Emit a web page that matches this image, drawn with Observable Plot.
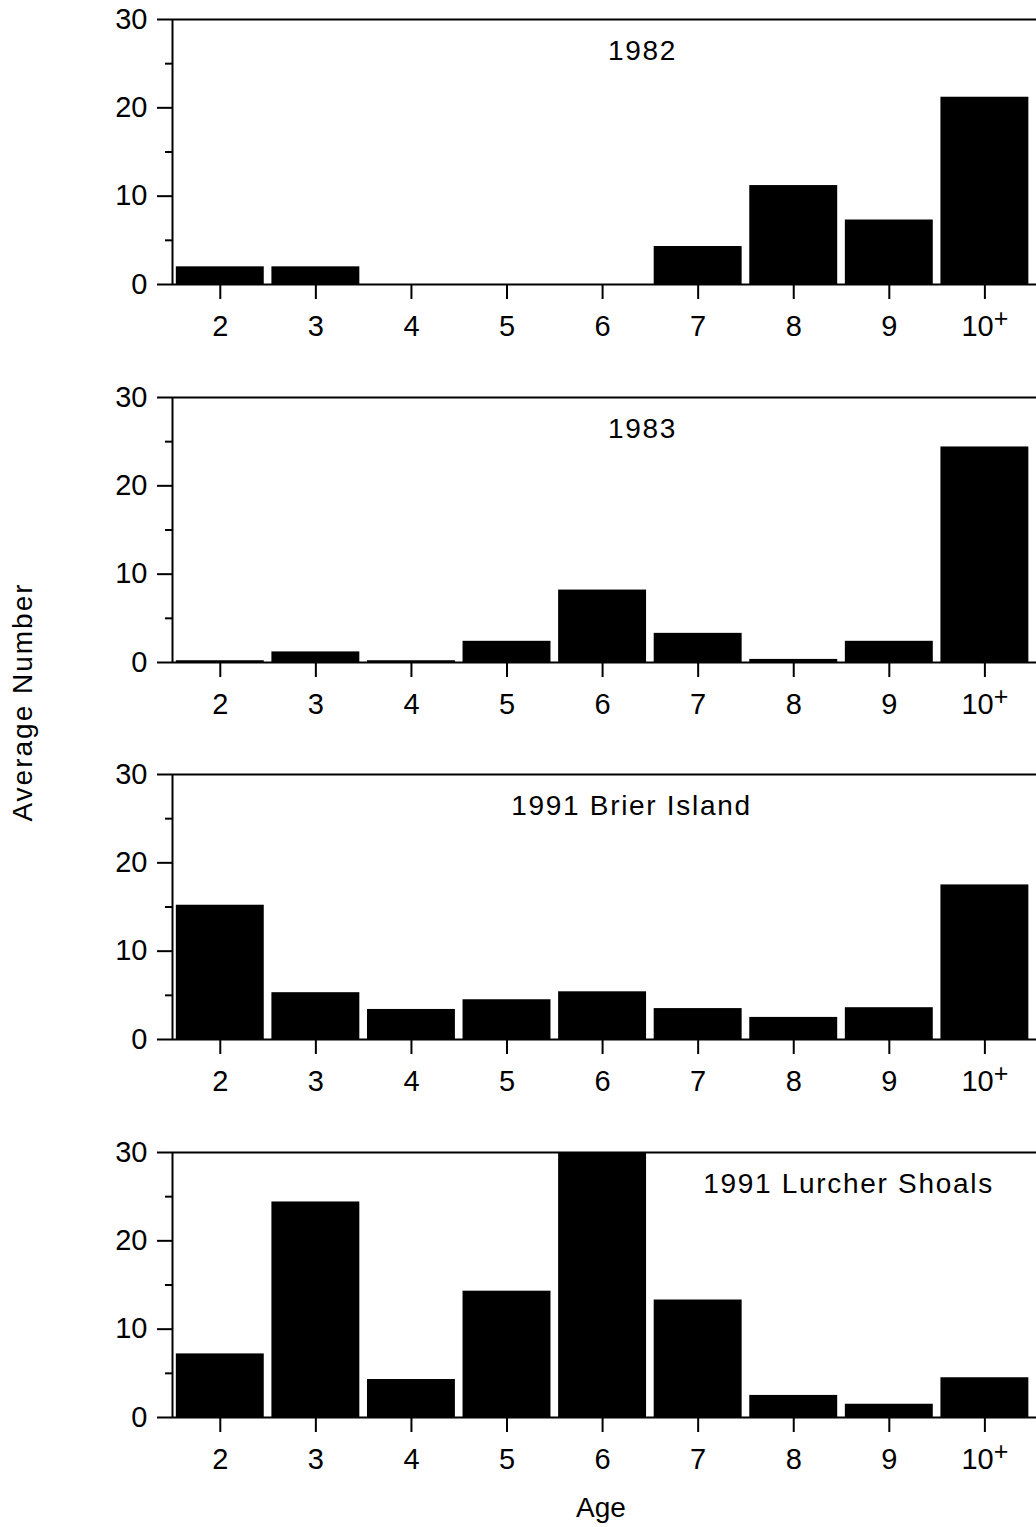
<!DOCTYPE html>
<html>
<head>
<meta charset="utf-8">
<script src="https://cdn.jsdelivr.net/npm/d3@7"></script>
<script src="https://cdn.jsdelivr.net/npm/@observablehq/plot@0.6"></script>
<style>
  body { margin: 0; background: #fff; }
  #root { position: relative; width: 1036px; height: 1527px; overflow: hidden; font-family: "Liberation Sans", Arial, Helvetica, sans-serif; color: #000; }
  .panel { position: absolute; left: 0; }
  .lab { position: absolute; font-size: 28px; line-height: 28px; white-space: nowrap; text-align: center; }
</style>
</head>
<body>
<div id="root"></div>
<script>
// ---- data ----
const ages = [2, 3, 4, 5, 6, 7, 8, 9, 10];
const ageLabels = ["2", "3", "4", "5", "6", "7", "8", "9", "10+"];
const panelTitles = ["1982", "1983", "1991 Brier Island", "1991 Lurcher Shoals"];
const values1982 = [2.0, 2.0, 0, 0, 0, 4.3, 11.2, 7.3, 21.2];
const values1983 = [0.2, 1.2, 0.2, 2.4, 8.2, 3.3, 0.35, 2.4, 24.4];
const values1991Brier = [15.2, 5.3, 3.4, 4.5, 5.4, 3.5, 2.5, 3.6, 17.5];
const values1991Lurcher = [7.2, 24.4, 4.3, 14.3, 30.3, 13.3, 2.5, 1.5, 4.5];
const yTicks = [0, 10, 20, 30];
const yMinorTicks = [5, 15, 25];
const yLabel = "Average Number";
const xLabel = "Age";

// ---- layout (not data) ----
const panelTop = [7, 385, 762, 1140];
const titleDx = [38, 38, 27, 244];
const W = 1036, mTop = 12, plotH = 265, mBottom = 72;
const font = '"Liberation Sans", Arial, Helvetica, sans-serif';

const series = [values1982, values1983, values1991Brier, values1991Lurcher];
const root = document.getElementById("root");

series.forEach((vals, k) => {
  const data = ages.map((a, i) => ({age: a, label: ageLabels[i], value: vals[i]}));
  const chart = Plot.plot({
    width: W,
    height: mTop + plotH + mBottom,
    marginTop: mTop,
    marginBottom: mBottom,
    marginLeft: 172,
    marginRight: 0,
    style: {fontFamily: font, fontSize: "29px", background: "white", color: "black", overflow: "visible"},
    x: {domain: [1.5, 10.54]},
    y: {domain: [0, 30]},
    marks: [
      Plot.rectY(data, {x1: d => d.age - 0.46, x2: d => d.age + 0.46, y1: 0, y2: "value", fill: "black", clip: true}),
      Plot.ruleY([0, 30], {stroke: "black", strokeWidth: 2}),
      Plot.ruleX([1.5], {stroke: "black", strokeWidth: 2}),
      Plot.axisY({ticks: yTicks, tickSize: 15, tickPadding: 10, strokeWidth: 2, label: null, fontSize: 29}),
      Plot.axisY(yMinorTicks, {tickSize: 7, tickFormat: () => "", strokeWidth: 2, label: null}),
      Plot.axisX({ticks: ages, tickFormat: d => ageLabels[ages.indexOf(d)], tickSize: 15, tickPadding: 16, strokeWidth: 2, label: null, fontSize: 29}),
      Plot.text([panelTitles[k]], {frameAnchor: "top", dx: titleDx[k], dy: 21, lineAnchor: "top", fontSize: 28, fill: "black"})
    ]
  });
  chart.classList.add("panel");
  chart.style.top = panelTop[k] + "px";
  // superscript plus on "10+"
  chart.querySelectorAll("text").forEach(t => {
    if (t.textContent === "10+") {
      const target = t.querySelector("tspan") || t;
      target.textContent = "10";
      const sup = document.createElementNS("http://www.w3.org/2000/svg", "tspan");
      sup.setAttribute("font-size", "25");
      sup.setAttribute("dy", "-9");
      sup.textContent = "+";
      target.appendChild(sup);
    }
    if (panelTitles.includes(t.textContent)) {
      t.style.letterSpacing = "1.7px";
    }
  });
  root.appendChild(chart);
});

const yl = document.createElement("div");
yl.className = "lab";
yl.textContent = yLabel;
yl.style.width = "400px";
yl.style.left = (23 - 200) + "px";
yl.style.top = (702 - 14) + "px";
yl.style.letterSpacing = "2px";
yl.style.transform = "rotate(-90deg)";
root.appendChild(yl);

const xl = document.createElement("div");
xl.className = "lab";
xl.textContent = xLabel;
xl.style.width = "200px";
xl.style.left = (601 - 100) + "px";
xl.style.top = "1494px";
root.appendChild(xl);
</script>
</body>
</html>
